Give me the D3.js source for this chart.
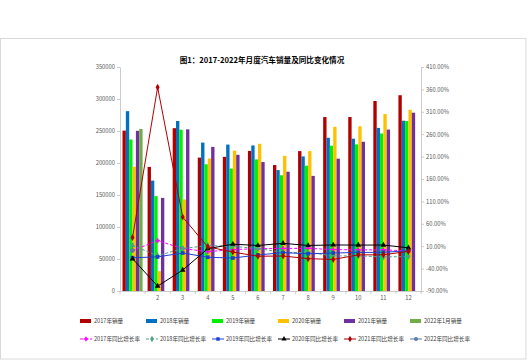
<!DOCTYPE html>
<html><head><meta charset="utf-8">
<script src="https://cdn.jsdelivr.net/npm/d3@7"></script>
<style>
html,body{margin:0;padding:0;background:#fff;}
text{font-family:"Noto Sans CJK SC","Noto Sans",sans-serif;}
</style></head>
<body><svg id="c" width="527" height="360"></svg>
<script>
const months = ["1","2","3","4","5","6","7","8","9","10","11","12"];
const tickLabels = ["","2","3","4","5","6","7","8","9","10","11","12"];
const leftTicks = [0,50000,100000,150000,200000,250000,300000,350000];
const rightTicks = [-90,-40,10,60,110,160,210,260,310,360,410];

const sales2017 = [250600,193900,254400,208400,209600,218900,196800,218600,271800,271800,296900,305900];
const sales2018 = [281000,172500,265600,231900,228800,227400,188900,210300,239400,238000,254800,266100];
const sales2019 = [236700,148200,252000,198000,191300,205600,180800,195800,227100,229100,246100,265700];
const sales2020 = [194100,31000,143000,207000,219400,230000,211200,218600,256500,257300,276500,283100];
const sales2021 = [250300,145500,252600,225200,212800,201500,186400,179900,206700,233200,252200,278600];
const sales2022 = [253100];

const growth2017 = [0.2,22.4,4.8,-2.2,2.3,4.5,5.0,5.3,2.5,1.9,1.8,-0.3];
const growth2018 = [11.6,-11.1,4.7,11.5,9.6,4.8,-4.0,-3.8,-11.6,-11.7,-13.9,-13.0];
const growth2019 = [-15.8,-13.8,-5.2,-14.6,-16.4,-9.6,-4.3,-6.9,-5.2,-4.0,-3.6,-0.1];
const growth2020 = [-18.0,-79.1,-43.3,4.4,14.5,11.6,16.4,11.6,12.8,12.5,12.6,6.4];
const growth2021 = [29.5,364.7,74.9,8.6,-3.1,-12.4,-11.9,-17.8,-19.6,-9.4,-9.1,-1.6];
const growth2022 = [0.9];

const barNames = ["2017年销量","2018年销量","2019年销量","2020年销量","2021年销量","2022年1月销量"];
const lineNames = ["2017年同比增长率","2018年同比增长率","2019年同比增长率","2020年同比增长率","2021年同比增长率","2022年同比增长率"];
const titleText = "图1：2017-2022年月度汽车销量及同比变化情况";

const barSeries = [sales2017,sales2018,sales2019,sales2020,sales2021,sales2022];
const lineSeries = [growth2017,growth2018,growth2019,growth2020,growth2021,growth2022];
const barColors = ["#B00000","#0070C0","#00F000","#FFC000","#7030A0","#70AD47"];
const lineColors = ["#FF00FF","#4F9F8A","#1F3FD0","#000000","#B00000","#5A7BA6"];
const lineDash = ["3,2","3,2",null,null,null,null];
const symbols = [d3.symbolCross,d3.symbolDiamond,d3.symbolSquare,d3.symbolTriangle,d3.symbolDiamond,d3.symbolCircle];

const svg = d3.select("#c");
const W=527,H=360;
const L=120,R=421,T=67,B=291;

svg.append("rect").attr("x",0.5).attr("y",38.5).attr("width",W-1.5).attr("height",H-39.5)
  .attr("fill","#fff").attr("stroke","#D9D9D9").attr("stroke-width",1);

svg.append("text").attr("x",262).attr("y",63).attr("text-anchor","middle")
  .attr("font-size",7.6).attr("font-weight","bold").attr("fill","#000").text(titleText);

const x0 = d3.scaleBand().domain(months).range([L,R]).paddingInner(0.2).paddingOuter(0.1);
const x1 = d3.scaleBand().domain(d3.range(barSeries.length)).range([0,x0.bandwidth()]);
const yL = d3.scaleLinear().domain([0,350000]).range([B,T]);
const yR = d3.scaleLinear().domain([-90,410]).range([B,T]);

// bars
barSeries.forEach((s,si)=>{
  svg.append("g").selectAll("rect").data(s).join("rect")
    .attr("x",(d,i)=>x0(months[i])+x1(si))
    .attr("width",x1.bandwidth())
    .attr("y",d=>yL(d))
    .attr("height",d=>yL(0)-yL(d))
    .attr("fill",barColors[si]);
});

// axes
const axL = svg.append("g").attr("transform",`translate(${L},0)`)
  .call(d3.axisLeft(yL).tickValues(leftTicks).tickFormat(d3.format("d")).tickSize(3).tickSizeOuter(0).tickPadding(2));
const axR = svg.append("g").attr("transform",`translate(${R},0)`)
  .call(d3.axisRight(yR).tickValues(rightTicks).tickFormat(d=>d.toFixed(2)+"%").tickSize(3).tickSizeOuter(0).tickPadding(2));
const axB = svg.append("g").attr("transform",`translate(0,${B})`)
  .call(d3.axisBottom(x0).tickFormat((d,i)=>tickLabels[i]).tickSize(0).tickSizeOuter(0).tickPadding(5));
// category boundary ticks
const bounds = months.map(m=>x0(m)-x0.step()*x0.paddingInner()/2).concat([R]);
svg.append("g").selectAll("line").data(bounds).join("line")
  .attr("x1",d=>d).attr("x2",d=>d).attr("y1",B).attr("y2",B+3)
  .attr("stroke","#BFBFBF").attr("stroke-width",0.8);

[axL,axR,axB].forEach(a=>{
  a.selectAll("path").attr("stroke","#BFBFBF").attr("stroke-width",0.8);
  a.selectAll("line").attr("stroke","#BFBFBF").attr("stroke-width",0.8);
  a.selectAll("text").attr("font-size",5.8).attr("fill","#595959").attr("font-family","Liberation Sans, Arial, sans-serif");
});

// lines
const cx = i=>x0(months[i])+x0.bandwidth()/2;
lineSeries.forEach((s,si)=>{
  const g = svg.append("g");
  const line = d3.line().x((d,i)=>cx(i)).y(d=>yR(d));
  g.append("path").datum(s).attr("d",line).attr("fill","none")
    .attr("stroke",lineColors[si]).attr("stroke-width",1)
    .attr("stroke-dasharray",lineDash[si]);
  g.selectAll("path.m").data(s).join("path").attr("class","m")
    .attr("transform",(d,i)=>`translate(${cx(i)},${yR(d)})`)
    .attr("d",d3.symbol().type(symbols[si]).size(si===0?12:14))
    .attr("fill",lineColors[si]);
});

// legend
const lg = svg.append("g");
barNames.forEach((n,i)=>{
  const x = 80+66*i, y = 321;
  lg.append("rect").attr("x",x).attr("y",y-2).attr("width",11).attr("height",4).attr("fill",barColors[i]);
  lg.append("text").attr("x",x+14).attr("y",y+2).attr("font-size",5.6).attr("fill","#404040").text(n);
});
lineNames.forEach((n,i)=>{
  const x = 80+66*i, y = 339;
  lg.append("line").attr("x1",x).attr("x2",x+12).attr("y1",y).attr("y2",y)
    .attr("stroke",lineColors[i]).attr("stroke-width",1).attr("stroke-dasharray",lineDash[i]);
  lg.append("path").attr("transform",`translate(${x+6},${y})`)
    .attr("d",d3.symbol().type(symbols[i]).size(12)).attr("fill",lineColors[i]);
  lg.append("text").attr("x",x+14).attr("y",y+2).attr("font-size",5.6).attr("fill","#404040").text(n);
});
</script></body></html>
